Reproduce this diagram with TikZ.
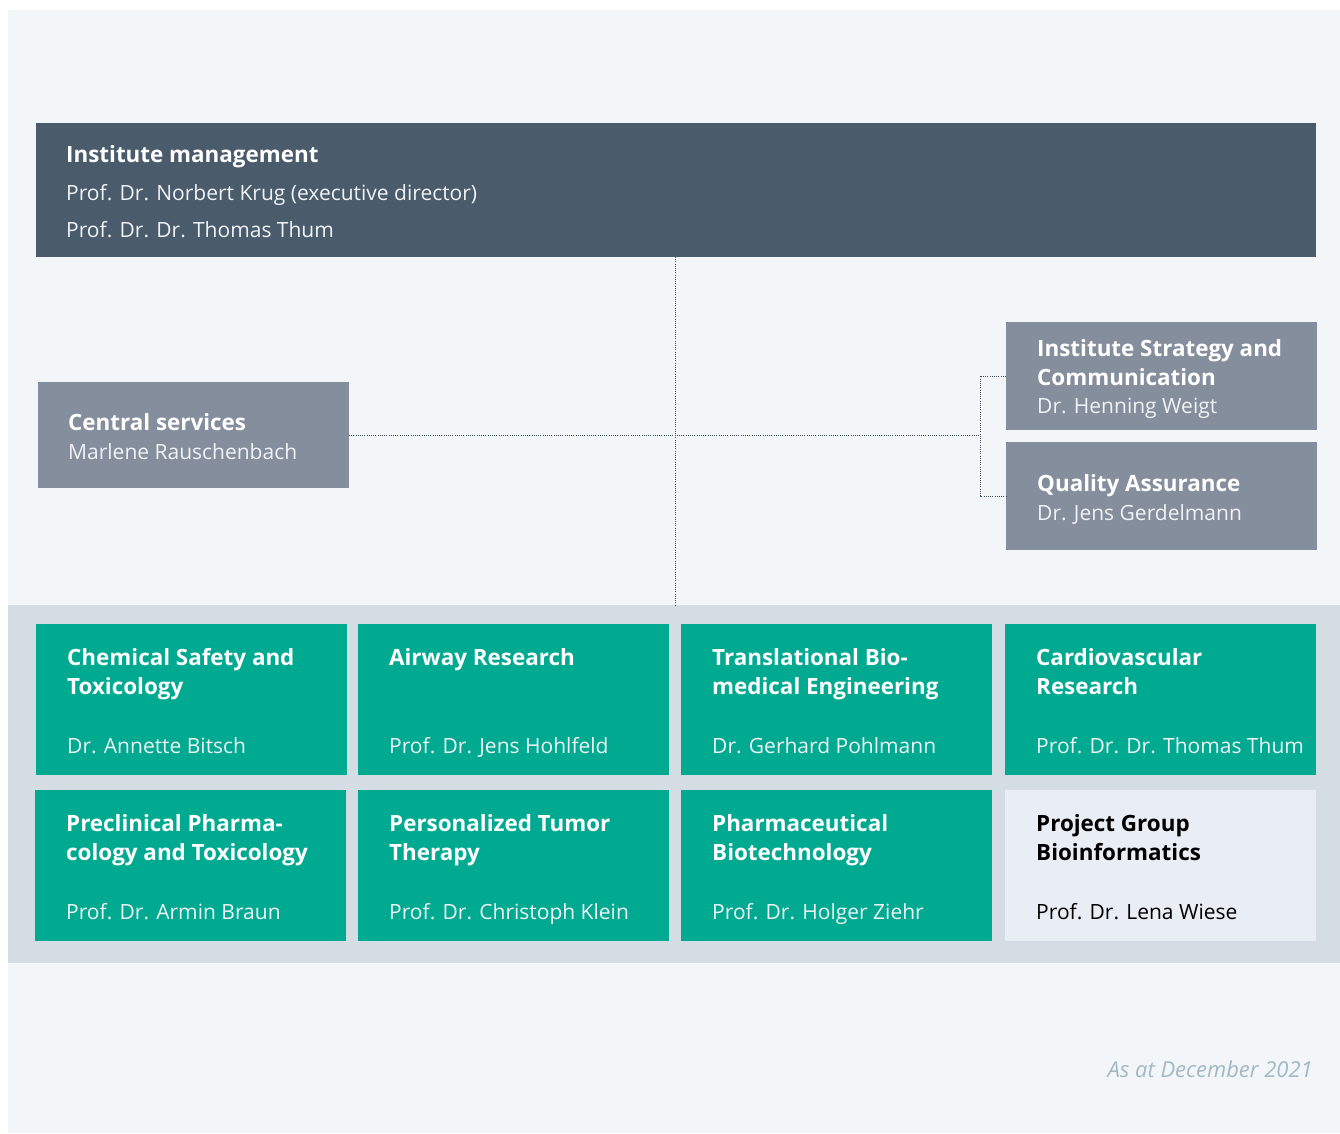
\documentclass[tikz,border=0pt]{standalone}
\usepackage{fontspec}
\setmainfont{Open Sans}
\definecolor{bgc}{HTML}{F2F6F9}
\definecolor{mgmt}{HTML}{4A5B6C}
\definecolor{greyb}{HTML}{858E9C}
\definecolor{band}{HTML}{D3DDE3}
\definecolor{grn}{HTML}{00AA91}
\definecolor{lightb}{HTML}{E9EEF5}
\definecolor{foot}{HTML}{A3B8C6}
\definecolor{linec}{HTML}{3F4E5E}
\definecolor{nmw}{HTML}{F0F3F5}
\tikzset{
  box/.style={rectangle, draw=none, inner sep=0pt, outer sep=0pt, anchor=north west},
  ttl/.style={anchor=base west, inner sep=0pt, text=white, font=\bfseries\fontsize{22.4}{27}\selectfont},
  nm/.style={anchor=base west, inner sep=0pt, text=nmw, font=\fontsize{21}{26}\selectfont},
  conn/.style={draw=linec, line width=0.9pt, dash pattern=on 1pt off 1.2pt},
}
\begin{document}
\begin{tikzpicture}[x=1pt,y=-1pt]
\useasboundingbox (0,0) rectangle (1340,1133);
\fill[white] (0,0) rectangle (1340,1133);
\fill[bgc] (8,10) rectangle (1340,1133);
\fill[band] (8,605) rectangle (1340,963);

% management
\node[box, fill=mgmt, minimum width=1280pt, minimum height=134pt] (mg) at (36,123) {};
\node[ttl] (mgt) at (66,162) {Institute management};
\node[nm] (mgn1) at (66,200) {Prof. Dr. Norbert Krug (executive director)};
\node[nm] (mgn2) at (66,237) {Prof. Dr. Dr. Thomas Thum};

% central services
\node[box, fill=greyb, minimum width=311pt, minimum height=106pt] (cs) at (38,382) {};
\node[ttl] (cst) at (68,430) {Central services};
\node[nm] (csn) at (68,459) {Marlene Rauschenbach};

% strategy
\node[box, fill=greyb, minimum width=311pt, minimum height=108pt] (st) at (1006,322) {};
\node[ttl] (stt1) at (1037,356) {Institute Strategy and};
\node[ttl] (stt2) at (1037,385) {Communication};
\node[nm] (stn) at (1037,413) {Dr. Henning Weigt};

% quality assurance
\node[box, fill=greyb, minimum width=311pt, minimum height=108pt] (qa) at (1006,442) {};
\node[ttl] (qat) at (1037,491) {Quality Assurance};
\node[nm] (qan) at (1037,520) {Dr. Jens Gerdelmann};

% connectors
\coordinate (bandtop) at (675,605);
\coordinate (mgbot) at (675,257);
\coordinate (junc) at (980,435);
\draw[conn] (mgbot) -- (bandtop);
\draw[conn] (cs.east) -- (junc);
\draw[conn] (st.west) -- ++(-26,0) |- (qa.west);

% row 1
\node[box, fill=grn, minimum width=311pt, minimum height=151pt] (a1) at (36,624) {};
\node[ttl] (a1t1) at (67,665) {Chemical Safety and};
\node[ttl] (a1t2) at (67,694) {Toxicology};
\node[nm] (a1n) at (67,753) {Dr. Annette Bitsch};

\node[box, fill=grn, minimum width=311pt, minimum height=151pt] (a2) at (358,624) {};
\node[ttl] (a2t1) at (389,665) {Airway Research};
\node[nm] (a2n) at (389,753) {Prof. Dr. Jens Hohlfeld};

\node[box, fill=grn, minimum width=311pt, minimum height=151pt] (a3) at (681,624) {};
\node[ttl] (a3t1) at (712,665) {Translational Bio-};
\node[ttl] (a3t2) at (712,694) {medical Engineering};
\node[nm] (a3n) at (712,753) {Dr. Gerhard Pohlmann};

\node[box, fill=grn, minimum width=311pt, minimum height=151pt] (a4) at (1005,624) {};
\node[ttl] (a4t1) at (1036,665) {Cardiovascular};
\node[ttl] (a4t2) at (1036,694) {Research};
\node[nm] (a4n) at (1036,753) {Prof. Dr. Dr. Thomas Thum};

% row 2
\node[box, fill=grn, minimum width=311pt, minimum height=151pt] (b1) at (35,790) {};
\node[ttl] (b1t1) at (66,831) {Preclinical Pharma-};
\node[ttl] (b1t2) at (66,860) {cology and Toxicology};
\node[nm] (b1n) at (66,919) {Prof. Dr. Armin Braun};

\node[box, fill=grn, minimum width=311pt, minimum height=151pt] (b2) at (358,790) {};
\node[ttl] (b2t1) at (389,831) {Personalized Tumor};
\node[ttl] (b2t2) at (389,860) {Therapy};
\node[nm] (b2n) at (389,919) {Prof. Dr. Christoph Klein};

\node[box, fill=grn, minimum width=311pt, minimum height=151pt] (b3) at (681,790) {};
\node[ttl] (b3t1) at (712,831) {Pharmaceutical};
\node[ttl] (b3t2) at (712,860) {Biotechnology};
\node[nm] (b3n) at (712,919) {Prof. Dr. Holger Ziehr};

\node[box, fill=lightb, minimum width=311pt, minimum height=151pt] (b4) at (1005,790) {};
\node[ttl, text=black] (b4t1) at (1036,831) {Project Group};
\node[ttl, text=black] (b4t2) at (1036,860) {Bioinformatics};
\node[nm, text=black] (b4n) at (1036,919) {Prof. Dr. Lena Wiese};

% footnote
\node[anchor=base east, inner sep=0pt, text=foot, font=\itshape\fontsize{22}{26}\selectfont] (ft) at (1313,1077) {As at December 2021};
\end{tikzpicture}
\end{document}
